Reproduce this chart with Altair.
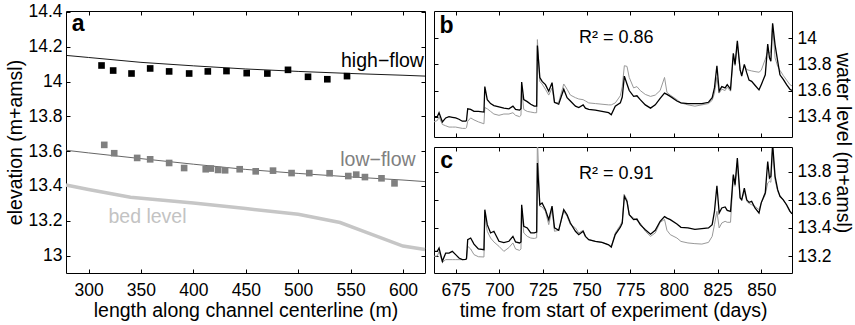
import altair as alt
import pandas as pd

FONT = "Liberation Sans"
LBL = 17.5
TTL = 19.5

# ---------------- panel a data ----------------
hf_x = [312.4, 323.5, 341.0, 358.8, 376.9, 396.0, 413.8, 431.6, 450.9, 470.6, 490.3, 509.4, 527.8, 546.6]
hf_y = [14.092, 14.063, 14.046, 14.075, 14.058, 14.046, 14.058, 14.060, 14.048, 14.046, 14.067, 14.027, 14.013, 14.031]
lf_x = [315.0, 324.5, 346.4, 358.8, 376.9, 391.2, 411.8, 416.6, 423.6, 430.3, 444.2,
        459.5, 476.0, 493.7, 510.6, 530.0, 547.8, 555.4, 563.7, 579.5, 591.9]
lf_y = [13.636, 13.588, 13.561, 13.553, 13.532, 13.503, 13.496, 13.500, 13.492, 13.490, 13.496,
        13.484, 13.488, 13.474, 13.474, 13.473, 13.457, 13.465, 13.451, 13.444, 13.415]
fit_x = [278.5, 300, 350, 400, 450, 500, 550, 600, 621]
hf_fit = [14.150, 14.138, 14.110, 14.090, 14.072, 14.058, 14.046, 14.036, 14.031]
lf_fit = [13.605, 13.590, 13.557, 13.525, 13.495, 13.472, 13.452, 13.434, 13.425]
bed_x = [278.5, 300, 340, 400, 450, 500, 540, 560, 600, 621]
bed_y = [13.405, 13.380, 13.335, 13.302, 13.270, 13.237, 13.190, 13.145, 13.055, 13.035]

# ---------------- panels b, c data ----------------
days = [662.6, 664.5, 665.5, 667.4, 669.3, 671.2, 673.1, 675, 676.9, 678.8,
        680.7, 681.2, 681.9, 683.6, 685.5, 688, 691.2, 691.7, 693.1, 695,
        696.9, 699.8, 702.6, 705.5, 707.8, 709.3, 711.6, 712.4, 712.8, 714,
        716, 718, 720, 721.4, 721.8, 723.2, 724.5, 726.4, 728.3, 730.2,
        731.6, 734, 736.9, 738.8, 740.7, 743.6, 745.5, 748, 749.3, 751.2,
        755, 758.8, 762.6, 764.1, 766.4, 769.3, 770.4, 771.6, 773.1, 774.4,
        776.9, 778.8, 780.7, 783.6, 786.6, 789.3, 792.1, 794.6, 796, 797.9,
        801.7, 804, 808, 812, 816, 819.8, 821.9, 823.2, 824.6, 825.9,
        827.4, 829.3, 830.5, 832.4, 834, 835, 836.3, 837.9, 838.8, 840.3,
        841.7, 843, 844.5, 846.4, 848.7, 850, 852.3, 853.7, 854.7, 855.5,
        856.5, 857.9, 859.4, 860.7, 862.6, 864.5, 866.4, 867.6]

b_meas = [13.40, 13.40, 13.43, 13.36, 13.39, 13.40, 13.395, 13.39, 13.38, 13.365,
          13.365, 13.37, 13.46, 13.455, 13.44, 13.44, 13.435, 13.63, 13.53, 13.50,
          13.485, 13.475, 13.465, 13.46, 13.48, 13.455, 13.45, 13.46, 13.665, 13.53,
          13.515, 13.495, 13.48, 13.48, 13.945, 13.70, 13.67, 13.645, 13.595, 13.66,
          13.51, 13.495, 13.61, 13.545, 13.52, 13.48, 13.47, 13.49, 13.465, 13.455,
          13.45, 13.44, 13.43, 13.415, 13.48, 13.505, 13.55, 13.71, 13.65, 13.60,
          13.555, 13.56, 13.53, 13.49, 13.465, 13.49, 13.54, 13.58, 13.57, 13.555,
          13.52, 13.505, 13.50, 13.50, 13.50, 13.51, 13.545, 13.62, 13.79, 13.595,
          13.63, 13.62, 13.645, 13.61, 13.885, 13.80, 13.98, 13.76, 13.71, 13.80,
          13.735, 13.68, 13.67, 13.64, 13.605, 13.645, 13.72, 13.955, 13.85, 13.825,
          14.115, 13.95, 13.825, 13.72, 13.685, 13.645, 13.61, 13.60]

b_model = [13.36, 13.37, 13.40, 13.34, 13.33, 13.32, 13.32, 13.32, 13.315, 13.31,
           13.31, 13.315, 13.365, 13.39, 13.375, 13.36, 13.345, 13.47, 13.46, 13.44,
           13.42, 13.41, 13.42, 13.42, 13.43, 13.41, 13.40, 13.41, 13.61, 13.455,
           13.44, 13.435, 13.43, 13.43, 13.99, 13.67, 13.65, 13.61, 13.565, 13.62,
           13.505, 13.51, 13.65, 13.61, 13.565, 13.545, 13.535, 13.53, 13.52, 13.505,
           13.50, 13.495, 13.49, 13.49, 13.505, 13.56, 13.63, 13.79, 13.785, 13.70,
           13.62, 13.63, 13.60, 13.57, 13.555, 13.565, 13.60, 13.70, 13.585, 13.565,
           13.53, 13.505, 13.49, 13.48, 13.49, 13.50, 13.525, 13.58, 13.70, 13.58,
           13.61, 13.60, 13.625, 13.595, 13.86, 13.79, 13.955, 13.75, 13.73, 13.79,
           13.76, 13.755, 13.75, 13.745, 13.74, 13.755, 13.84, 13.90, 13.885, 13.90,
           14.105, 13.85, 13.785, 13.755, 13.715, 13.68, 13.645, 13.635]

c_meas = [13.233, 13.233, 13.257, 13.162, 13.221, 13.221, 13.233, 13.21, 13.186, 13.174,
          13.176, 13.18, 13.316, 13.328, 13.285, 13.25, 13.245, 13.53, 13.423, 13.364,
          13.376, 13.305, 13.295, 13.305, 13.34, 13.30, 13.293, 13.30, 13.565, 13.411,
          13.40, 13.364, 13.364, 13.37, 13.862, 13.565, 13.577, 13.53, 13.459, 13.555,
          13.40, 13.383, 13.53, 13.494, 13.435, 13.376, 13.352, 13.376, 13.34, 13.316,
          13.304, 13.297, 13.28, 13.264, 13.352, 13.405, 13.435, 13.625, 13.589, 13.494,
          13.459, 13.463, 13.423, 13.387, 13.355, 13.383, 13.447, 13.48, 13.47, 13.459,
          13.428, 13.404, 13.40, 13.39, 13.395, 13.40, 13.423, 13.518, 13.70, 13.506,
          13.542, 13.549, 13.525, 13.518, 13.779, 13.708, 13.897, 13.613, 13.60, 13.684,
          13.60, 13.582, 13.589, 13.542, 13.506, 13.58, 13.65, 13.873, 13.755, 13.767,
          14.0, 13.767, 13.672, 13.625, 13.60, 13.565, 13.52, 13.50]

c_model = [13.198, 13.20, 13.233, 13.155, 13.174, 13.174, 13.174, 13.174, 13.174, 13.174,
           13.175, 13.18, 13.269, 13.25, 13.21, 13.195, 13.193, 13.482, 13.376, 13.328,
           13.30, 13.269, 13.233, 13.26, 13.293, 13.25, 13.24, 13.25, 13.542, 13.364,
           13.34, 13.328, 13.325, 13.33, 14.05, 13.554, 13.55, 13.518, 13.423, 13.53,
           13.376, 13.383, 13.518, 13.482, 13.423, 13.40, 13.364, 13.383, 13.34, 13.316,
           13.304, 13.297, 13.28, 13.264, 13.364, 13.42, 13.447, 13.637, 13.60, 13.494,
           13.47, 13.454, 13.435, 13.376, 13.34, 13.364, 13.44, 13.46, 13.383, 13.352,
           13.328, 13.304, 13.293, 13.288, 13.285, 13.297, 13.34, 13.423, 13.518, 13.40,
           13.435, 13.447, 13.44, 13.44, 13.767, 13.696, 13.862, 13.613, 13.60, 13.66,
           13.589, 13.575, 13.565, 13.553, 13.53, 13.577, 13.637, 13.72, 13.732, 13.725,
           13.956, 13.743, 13.66, 13.63, 13.60, 13.56, 13.515, 13.50]

for s in (b_meas, b_model, c_meas, c_model):
    assert len(s) == len(days), (len(s), len(days))

r2_b = "R\u00b2 = 0.86"
r2_c = "R\u00b2 = 0.91"

x_ticks_a = [300, 350, 400, 450, 500, 550, 600]
y_ticks_a = [13, 13.2, 13.4, 13.6, 13.8, 14, 14.2, 14.4]
x_ticks_t = [675, 700, 725, 750, 775, 800, 825, 850]
y_ticks_b = [13.4, 13.6, 13.8, 14.0]
y_ticks_c = [13.2, 13.4, 13.6, 13.8]


def axis(orient, values, labels=False, title=None, pad=8, tpad=2, extra=None):
    kw = dict(orient=orient, values=values, labels=labels, domain=False, grid=False,
              ticks=True, tickSize=4, tickWidth=1, tickColor="black", offset=-4,
              labelPadding=pad, labelFont=FONT, labelFontSize=LBL, labelColor="black",
              format=".3~r", labelFlush=False, labelOverlap=False)
    if orient == "right":
        kw["labelAlign"] = "left"
    elif orient == "left":
        kw["labelAlign"] = "right"
    if title:
        kw.update(title=title, titleFont=FONT, titleFontSize=TTL, titleFontWeight="normal",
                  titleColor="black", titlePadding=tpad)
    else:
        kw["title"] = None
    if extra:
        kw.update(extra)
    return alt.Axis(**kw)


def text_layer(label, xv, yv, xs, ys, size, color="black", align="left", bold=False):
    return alt.Chart(pd.DataFrame({"t": [label]})).mark_text(
        align=align, baseline="alphabetic", font=FONT, fontSize=size,
        fontWeight="bold" if bold else "normal", color=color
    ).encode(
        x=alt.XDatum(xv, type="quantitative", scale=xs, axis=None),
        y=alt.YDatum(yv, type="quantitative", scale=ys, axis=None),
        text="t:N",
    )


# ---------------- panel a ----------------
xs_a = alt.Scale(domain=[278.5, 621], nice=False, zero=False)
ys_a = alt.Scale(domain=[12.9, 14.405], nice=False, zero=False)

df_bed = pd.DataFrame({"x": bed_x, "y": bed_y})
df_fit = pd.DataFrame({"x": fit_x, "hf": hf_fit, "lf": lf_fit})
df_hf = pd.DataFrame({"x": hf_x, "y": hf_y})
df_lf = pd.DataFrame({"x": lf_x, "y": lf_y})

bed = alt.Chart(df_bed).mark_line(color="#c6c6c6", strokeWidth=3.5).encode(
    x=alt.X("x:Q", scale=xs_a, axis=axis("bottom", x_ticks_a, labels=True,
                                         title="length along channel centerline (m)", pad=8, tpad=3)),
    y=alt.Y("y:Q", scale=ys_a, axis=axis("left", y_ticks_a, labels=True,
                                         title="elevation (m+amsl)", pad=4, tpad=2)),
)
hf_line = alt.Chart(df_fit).mark_line(color="black", strokeWidth=0.9).encode(
    x=alt.X("x:Q", scale=xs_a, axis=axis("top", x_ticks_a)),
    y=alt.Y("hf:Q", scale=ys_a, axis=axis("right", y_ticks_a)),
)
lf_line = alt.Chart(df_fit).mark_line(color="#555555", strokeWidth=0.9).encode(
    x=alt.X("x:Q", scale=xs_a, axis=None),
    y=alt.Y("lf:Q", scale=ys_a, axis=None),
)
hf_pts = alt.Chart(df_hf).mark_square(color="black", size=44, opacity=1).encode(
    x=alt.X("x:Q", scale=xs_a, axis=None),
    y=alt.Y("y:Q", scale=ys_a, axis=None),
)
lf_pts = alt.Chart(df_lf).mark_square(color="#808080", size=44, opacity=1).encode(
    x=alt.X("x:Q", scale=xs_a, axis=None),
    y=alt.Y("y:Q", scale=ys_a, axis=None),
)
panel_a = alt.layer(
    bed, hf_line, lf_line, hf_pts, lf_pts,
    text_layer("a", 284, 14.29, xs_a, ys_a, 23, bold=True),
    text_layer("high\u2212flow", 620, 14.084, xs_a, ys_a, 19.5, align="right"),
    text_layer("low\u2212flow", 612, 13.512, xs_a, ys_a, 19.5, color="#808080", align="right"),
    text_layer("bed level", 319, 13.187, xs_a, ys_a, 19.5, color="#c3c3c3"),
).resolve_axis(x="independent", y="independent").properties(width=359, height=262)

# ---------------- panels b and c ----------------
xs_t = alt.Scale(domain=[662.6, 867.6], nice=False, zero=False)
ys_b = alt.Scale(domain=[13.244, 14.209], nice=False, zero=False)
ys_c = alt.Scale(domain=[13.079, 13.976], nice=False, zero=False)

df_t = pd.DataFrame({"day": days, "bm": b_meas, "bs": b_model, "cm": c_meas, "cs": c_model})

right_title = dict(titleAngle=90, titleBaseline="middle", titleAlign="center",
                   titleX=54, titleY=131.5)

b_model_line = alt.Chart(df_t).mark_line(color="#999999", strokeWidth=1.0, clip=True).encode(
    x=alt.X("day:Q", scale=xs_t, axis=axis("bottom", x_ticks_t)),
    y=alt.Y("bs:Q", scale=ys_b, axis=axis("left", y_ticks_b)),
)
b_meas_line = alt.Chart(df_t).mark_line(color="black", strokeWidth=1.3, clip=True).encode(
    x=alt.X("day:Q", scale=xs_t, axis=axis("top", x_ticks_t)),
    y=alt.Y("bm:Q", scale=ys_b, axis=axis("right", y_ticks_b, labels=True,
                                          title="water level (m+amsl)", pad=5, extra=right_title)),
)
panel_b = alt.layer(
    b_model_line, b_meas_line,
    text_layer("b", 665.7, 14.04, xs_t, ys_b, 23, bold=True),
    text_layer(r2_b, 745.6, 13.964, xs_t, ys_b, 18),
).resolve_axis(x="independent", y="independent").properties(width=358, height=126)

c_model_line = alt.Chart(df_t).mark_line(color="#999999", strokeWidth=1.0, clip=True).encode(
    x=alt.X("day:Q", scale=xs_t, axis=axis("bottom", x_ticks_t, labels=True,
                                           title="time from start of experiment (days)", pad=8, tpad=3)),
    y=alt.Y("cs:Q", scale=ys_c, axis=axis("left", y_ticks_c)),
)
c_meas_line = alt.Chart(df_t).mark_line(color="black", strokeWidth=1.3, clip=True).encode(
    x=alt.X("day:Q", scale=xs_t, axis=axis("top", x_ticks_t)),
    y=alt.Y("cm:Q", scale=ys_c, axis=axis("right", y_ticks_c, labels=True, pad=5)),
)
panel_c = alt.layer(
    c_model_line, c_meas_line,
    text_layer("c", 666.2, 13.826, xs_t, ys_c, 23, bold=True),
    text_layer(r2_c, 745.6, 13.748, xs_t, ys_c, 18),
).resolve_axis(x="independent", y="independent").properties(width=358, height=126)

right = alt.vconcat(panel_b, panel_c, spacing=10, bounds="flush")
chart = alt.hconcat(panel_a, right, spacing=9, bounds="flush").properties(
    padding={"left": 5, "top": 2, "right": 0, "bottom": 0},
    background="white",
).configure_view(stroke="black", strokeWidth=1)

chart.save("out.html", embed_options={"renderer": "svg", "actions": False})
